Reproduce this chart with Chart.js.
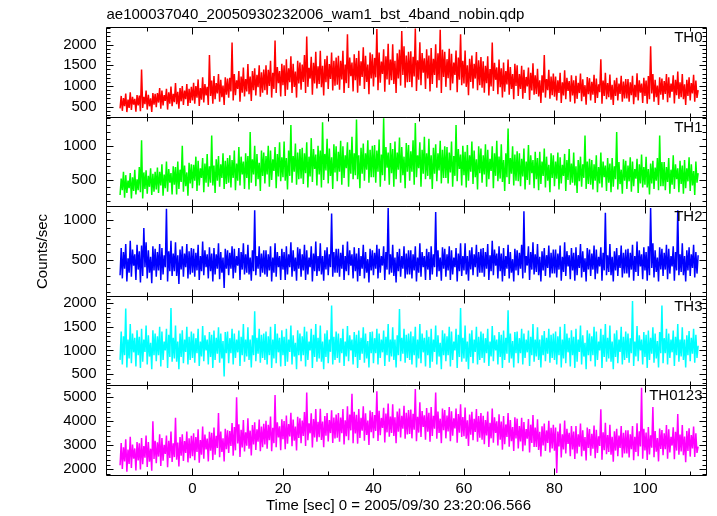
<!DOCTYPE html>
<html>
<head>
<meta charset="utf-8">
<script src="https://cdn.jsdelivr.net/npm/chart.js@4"></script>
<style>
  html, body { margin: 0; padding: 0; background: #fff; }
  #wrap { width: 717px; height: 516px; position: relative; }
</style>
</head>
<body>
<div id="wrap"><canvas id="lc" width="717" height="516"></canvas></div>
<script>
// light curve bins: 0.25 s each, starting at t = -16 s (16 bins per row = 4 s)
const T_START = -16;
const T_BIN = 0.25;

const th0 = [
  460, 760, 400, 710, 510, 820, 370, 670, 470, 850, 420, 740, 550, 690, 380, 780,
  530, 770, 390, 1400, 470, 740, 560, 890, 430, 790, 510, 700, 370, 830, 550, 810,
  490, 830, 600, 950, 450, 890, 530, 780, 640, 930, 430, 850, 570, 990, 510, 810,
  610, 1070, 560, 860, 450, 950, 630, 1000, 540, 890, 680, 1050, 520, 930, 590, 980,
  650, 1080, 570, 1000, 720, 1160, 520, 950, 670, 1210, 600, 1050, 770, 980, 540, 1750,
  760, 1130, 570, 1240, 680, 1070, 820, 1290, 620, 1150, 730, 1010, 540, 1210, 790, 1180,
  720, 1200, 870, 2050, 650, 1290, 780, 1140, 930, 1360, 620, 1230, 840, 1450, 750, 1170,
  870, 1530, 800, 1230, 640, 1360, 900, 1430, 770, 1270, 970, 1500, 740, 1330, 840, 1400,
  900, 1500, 790, 1390, 1000, 1610, 720, 1320, 930, 2100, 830, 1460, 1070, 1360, 750, 1540,
  1020, 1500, 760, 1650, 910, 1430, 1090, 1720, 830, 1540, 980, 1350, 720, 1610, 1060, 1570,
  910, 1520, 1100, 1750, 830, 2200, 980, 1440, 1180, 1710, 790, 1560, 1060, 1830, 940, 1480,
  1050, 1850, 970, 1490, 770, 1650, 1090, 1730, 930, 1530, 1170, 1810, 890, 1610, 1010, 1690,
  1030, 1730, 910, 1610, 1160, 1850, 830, 1520, 1070, 2250, 950, 1690, 1240, 1570, 870, 1770,
  1140, 1680, 840, 1850, 1010, 1600, 1220, 1940, 930, 1730, 1100, 1520, 800, 1810, 1180, 1770,
  990, 1680, 1210, 2380, 900, 1810, 1080, 1590, 1290, 1890, 860, 1720, 1160, 2020, 1030, 1640,
  1140, 2010, 1050, 1610, 830, 1790, 1180, 1880, 1010, 2330, 1270, 1960, 960, 1740, 1090, 1830,
  1100, 1840, 970, 1710, 1230, 2390, 880, 1620, 1150, 2060, 1020, 1800, 1320, 1670, 930, 1890,
  1180, 1740, 870, 1920, 1050, 1660, 1270, 2010, 960, 1790, 1140, 2360, 830, 1880, 1220, 1830,
  980, 1650, 1190, 1900, 900, 1780, 1060, 1570, 1270, 1860, 850, 1690, 1150, 2250, 1020, 1610,
  1060, 1860, 980, 1500, 780, 1660, 1100, 1740, 940, 1540, 1180, 1820, 900, 1620, 1020, 1700,
  960, 1600, 840, 1490, 1070, 1720, 770, 1410, 990, 2050, 880, 1560, 1150, 1450, 800, 1640,
  970, 1430, 720, 1570, 860, 1360, 1040, 1640, 790, 1460, 930, 1290, 680, 1540, 1000, 1500,
  760, 1290, 930, 1490, 690, 1390, 830, 1220, 990, 1450, 660, 1320, 890, 1550, 790, 1260,
  810, 1420, 750, 1140, 590, 1260, 840, 1750, 720, 1170, 900, 1390, 690, 1230, 780, 1300,
  740, 1230, 650, 1140, 830, 1320, 590, 1090, 770, 1380, 680, 1200, 880, 1120, 620, 1260,
  770, 1140, 580, 1250, 690, 1080, 830, 1300, 630, 1160, 740, 1020, 550, 1220, 800, 1190,
  650, 1100, 790, 1270, 590, 1180, 710, 1040, 850, 1650, 570, 1130, 760, 1320, 680, 1070,
  730, 1280, 670, 1030, 540, 1140, 760, 1200, 650, 1060, 810, 1250, 620, 1110, 700, 1170,
  700, 1170, 620, 1090, 780, 1250, 560, 1030, 730, 1310, 650, 1140, 840, 1060, 590, 1200,
  760, 1130, 570, 1240, 680, 1960, 820, 1290, 620, 1150, 730, 1010, 540, 1210, 790, 1180,
  670, 1120, 810, 1290, 610, 1210, 720, 1060, 860, 1260, 580, 1150, 780, 1350, 690, 1090,
  730, 1290, 680, 1040, 540, 1150, 760, 1210, 650, 1070, 820, 1270, 620, 1130, 710, 900
];
const th1 = [
  280, 520, 350, 620, 240, 570, 310, 490, 380, 600, 230, 540, 340, 650, 290, 510,
  350, 690, 320, 1080, 230, 610, 370, 640, 300, 560, 400, 670, 280, 590, 330, 620,
  360, 680, 310, 620, 420, 730, 270, 580, 380, 770, 330, 660, 460, 600, 290, 700,
  430, 690, 290, 770, 370, 650, 470, 1000, 330, 710, 410, 610, 270, 750, 450, 730,
  380, 720, 490, 840, 340, 780, 420, 670, 530, 820, 320, 740, 460, 880, 400, 700,
  460, 1150, 420, 710, 310, 800, 490, 850, 400, 730, 530, 890, 370, 780, 440, 820,
  460, 860, 390, 790, 530, 930, 350, 740, 490, 980, 420, 840, 580, 770, 370, 890,
  530, 850, 360, 1200, 460, 800, 580, 1000, 410, 880, 510, 750, 340, 930, 560, 900,
  450, 850, 580, 1000, 400, 930, 500, 800, 630, 980, 380, 880, 550, 1050, 480, 830,
  540, 1060, 490, 820, 360, 930, 560, 1300, 460, 850, 620, 1030, 430, 900, 510, 950,
  520, 970, 440, 890, 600, 1050, 390, 840, 550, 1110, 470, 950, 660, 870, 420, 1000,
  580, 930, 390, 1340, 500, 880, 640, 1100, 450, 960, 560, 830, 370, 1020, 610, 990,
  480, 910, 620, 1070, 430, 990, 530, 860, 670, 1050, 400, 940, 590, 1130, 510, 890,
  570, 1380, 510, 860, 380, 970, 590, 1030, 490, 890, 650, 1080, 460, 940, 540, 1000,
  540, 1010, 460, 930, 620, 1090, 400, 870, 570, 1400, 490, 980, 680, 900, 430, 1040,
  600, 950, 400, 1060, 510, 900, 650, 1120, 460, 980, 570, 840, 380, 1040, 620, 1010,
  490, 920, 620, 1080, 430, 1330, 540, 860, 670, 1050, 400, 940, 590, 1130, 510, 890,
  560, 1100, 510, 860, 370, 970, 590, 1020, 480, 890, 640, 1070, 450, 940, 530, 990,
  530, 980, 450, 900, 610, 1060, 400, 850, 560, 1300, 480, 950, 660, 870, 420, 1000,
  570, 910, 390, 1010, 490, 860, 620, 1060, 440, 930, 540, 800, 360, 990, 600, 960,
  460, 860, 580, 1020, 400, 940, 510, 810, 630, 990, 380, 890, 560, 1070, 480, 840,
  520, 1020, 470, 790, 340, 890, 540, 1250, 440, 820, 590, 990, 420, 870, 490, 920,
  480, 890, 410, 810, 550, 960, 360, 770, 500, 1010, 430, 860, 600, 790, 380, 910,
  510, 820, 350, 910, 440, 770, 560, 960, 390, 840, 490, 720, 320, 890, 530, 860,
  410, 770, 520, 900, 360, 830, 450, 720, 560, 880, 340, 790, 500, 950, 430, 740,
  460, 900, 420, 700, 310, 790, 480, 840, 400, 730, 530, 1150, 370, 770, 440, 810,
  430, 790, 360, 730, 490, 860, 320, 690, 450, 900, 390, 770, 540, 710, 340, 820,
  460, 740, 320, 820, 400, 700, 510, 1200, 360, 760, 440, 650, 300, 800, 490, 780,
  370, 710, 480, 830, 330, 770, 410, 660, 520, 810, 310, 730, 450, 870, 390, 690,
  430, 840, 390, 660, 290, 740, 450, 780, 370, 680, 490, 820, 350, 1150, 410, 760,
  410, 760, 350, 690, 470, 820, 300, 650, 430, 860, 370, 730, 510, 670, 320, 780,
  440, 710, 300, 790, 380, 670, 480, 830, 340, 730, 420, 630, 280, 770, 460, 600
];
const th2 = [
  310, 650, 270, 600, 390, 700, 230, 520, 340, 740, 290, 630, 430, 570, 250, 690,
  380, 610, 220, 680, 300, 900, 410, 720, 270, 620, 340, 540, 210, 670, 370, 640,
  290, 600, 370, 700, 250, 650, 320, 560, 410, 1140, 230, 610, 360, 740, 300, 580,
  360, 720, 300, 560, 200, 630, 380, 670, 290, 580, 410, 700, 270, 610, 320, 650,
  340, 640, 290, 590, 370, 690, 250, 550, 360, 730, 310, 620, 410, 570, 270, 660,
  360, 580, 230, 650, 320, 570, 390, 710, 260, 600, 340, 530, 150, 640, 390, 620,
  310, 590, 390, 670, 270, 640, 340, 550, 430, 650, 250, 600, 380, 710, 320, 570,
  340, 690, 320, 530, 240, 620, 360, 1120, 310, 550, 390, 670, 290, 580, 340, 620,
  320, 620, 290, 570, 370, 670, 230, 530, 340, 710, 290, 600, 410, 550, 250, 640,
  380, 600, 250, 670, 320, 570, 410, 720, 290, 620, 360, 530, 240, 660, 390, 640,
  290, 570, 370, 690, 250, 620, 320, 530, 410, 670, 230, 580, 360, 730, 300, 550,
  360, 710, 320, 550, 240, 620, 380, 660, 310, 570, 410, 1080, 290, 600, 340, 640,
  340, 640, 290, 590, 390, 690, 250, 550, 360, 730, 310, 620, 430, 570, 270, 660,
  360, 580, 230, 650, 300, 550, 390, 690, 270, 600, 340, 510, 220, 640, 370, 620,
  310, 590, 390, 690, 270, 640, 340, 550, 430, 670, 250, 600, 380, 1150, 320, 570,
  340, 690, 300, 530, 220, 600, 360, 640, 290, 550, 390, 670, 270, 580, 320, 620,
  320, 620, 270, 570, 370, 670, 230, 530, 340, 710, 290, 600, 410, 550, 250, 640,
  380, 600, 250, 670, 320, 570, 410, 1100, 290, 620, 360, 530, 240, 660, 390, 640,
  290, 570, 370, 670, 250, 620, 320, 530, 410, 650, 230, 580, 360, 710, 300, 550,
  370, 710, 320, 550, 240, 620, 380, 660, 310, 570, 410, 690, 290, 600, 340, 640,
  340, 650, 290, 600, 390, 700, 250, 560, 360, 740, 310, 630, 430, 580, 270, 670,
  360, 580, 230, 650, 300, 550, 390, 690, 270, 600, 340, 510, 230, 640, 370, 620,
  310, 590, 390, 690, 270, 1110, 340, 550, 430, 670, 250, 600, 380, 720, 320, 570,
  350, 700, 310, 540, 230, 610, 370, 650, 300, 560, 400, 680, 280, 590, 330, 630,
  330, 630, 280, 580, 380, 680, 240, 540, 350, 720, 300, 610, 420, 560, 260, 650,
  370, 590, 240, 660, 310, 560, 400, 700, 280, 610, 350, 520, 230, 650, 380, 630,
  300, 580, 380, 680, 260, 630, 330, 540, 420, 660, 240, 590, 370, 1090, 310, 560,
  350, 700, 310, 540, 230, 610, 370, 650, 300, 560, 400, 680, 280, 590, 330, 630,
  330, 640, 280, 590, 380, 690, 240, 550, 350, 730, 300, 620, 420, 570, 260, 660,
  370, 600, 240, 670, 310, 1150, 400, 710, 280, 620, 350, 530, 230, 660, 380, 640,
  300, 590, 380, 690, 260, 640, 330, 550, 420, 670, 240, 600, 370, 1120, 310, 570,
  350, 710, 310, 550, 230, 620, 370, 660, 300, 570, 400, 690, 280, 600, 330, 560
];
const th3 = [
  800, 1400, 700, 1300, 900, 1890, 640, 1230, 830, 1560, 730, 1360, 960, 1270, 660, 1430,
  900, 1290, 630, 1460, 760, 1230, 970, 1530, 700, 1320, 870, 1160, 600, 1430, 900, 1360,
  770, 1300, 900, 1500, 660, 1400, 800, 1190, 1000, 1460, 630, 1330, 860, 1900, 760, 1270,
  830, 1530, 760, 1190, 600, 1360, 860, 1430, 730, 1230, 970, 1500, 700, 1290, 800, 1400,
  840, 1360, 740, 1260, 940, 1460, 670, 1190, 870, 1520, 770, 1320, 1000, 1230, 700, 1390,
  860, 1330, 630, 1420, 800, 1270, 930, 1490, 740, 1360, 830, 1200, 450, 1390, 940, 1400,
  730, 1260, 940, 1460, 700, 1360, 840, 1230, 960, 1420, 670, 1290, 900, 1560, 760, 1230,
  870, 1490, 800, 1230, 640, 1320, 900, 1830, 770, 1270, 930, 1460, 740, 1330, 840, 1360,
  800, 1400, 700, 1300, 900, 1500, 630, 1230, 830, 1560, 730, 1360, 960, 1270, 660, 1430,
  900, 1290, 670, 1460, 760, 1230, 970, 1530, 700, 1320, 870, 1160, 600, 1430, 900, 1360,
  770, 1300, 900, 1500, 660, 1400, 800, 1190, 1000, 1460, 630, 1330, 860, 1560, 760, 1270,
  830, 1530, 760, 1190, 600, 1360, 860, 1430, 730, 1230, 970, 1950, 700, 1290, 800, 1400,
  840, 1360, 740, 1260, 940, 1460, 670, 1190, 870, 1520, 770, 1320, 1000, 1230, 700, 1390,
  860, 1330, 630, 1420, 800, 1270, 930, 1490, 740, 1360, 830, 1200, 640, 1390, 940, 1400,
  730, 1260, 940, 1460, 700, 1360, 840, 1230, 960, 1420, 670, 1290, 900, 1560, 760, 1230,
  870, 1490, 800, 1230, 640, 1320, 900, 1880, 770, 1270, 930, 1460, 740, 1330, 840, 1360,
  800, 1400, 700, 1300, 900, 1500, 640, 1230, 830, 1560, 730, 1360, 960, 1270, 660, 1430,
  900, 1290, 630, 1460, 760, 1230, 970, 1530, 700, 1320, 870, 1160, 600, 1430, 900, 1360,
  770, 1300, 900, 1500, 660, 1400, 800, 1190, 1000, 1460, 630, 1330, 860, 1900, 760, 1270,
  830, 1530, 760, 1190, 600, 1360, 860, 1430, 730, 1230, 970, 1500, 700, 1290, 800, 1400,
  840, 1360, 740, 1260, 940, 1460, 670, 1190, 870, 1520, 770, 1320, 1000, 1230, 700, 1390,
  860, 1330, 630, 1420, 800, 1270, 930, 1850, 740, 1360, 830, 1200, 640, 1390, 940, 1400,
  730, 1260, 940, 1460, 700, 1360, 840, 1230, 960, 1420, 670, 1290, 900, 1560, 760, 1230,
  870, 1490, 800, 1230, 640, 1320, 900, 1410, 770, 1270, 930, 1460, 740, 1330, 840, 1360,
  800, 1400, 700, 1300, 900, 1500, 640, 1230, 830, 1560, 730, 1360, 960, 1270, 660, 1430,
  900, 1290, 630, 1460, 760, 1230, 970, 1530, 700, 1320, 870, 1160, 600, 1430, 900, 1360,
  770, 1300, 900, 1500, 660, 1400, 800, 1190, 1000, 1460, 630, 1330, 860, 1560, 760, 1270,
  830, 1530, 760, 1190, 600, 1360, 860, 1430, 730, 1230, 970, 1500, 700, 1290, 800, 1400,
  840, 1360, 740, 1260, 940, 2050, 670, 1190, 870, 1520, 770, 1320, 1000, 1230, 700, 1390,
  860, 1330, 630, 1420, 800, 1270, 930, 1490, 740, 1360, 830, 1200, 640, 1390, 940, 1950,
  730, 1260, 940, 1460, 700, 1360, 840, 1230, 960, 1420, 670, 1290, 900, 1560, 760, 1230,
  870, 1490, 800, 1230, 640, 1320, 900, 1410, 770, 1270, 930, 1460, 740, 1330, 840, 1100
];
const th0123 = [
  2170, 3090, 2010, 2920, 2330, 3250, 1900, 2820, 2220, 3360, 2060, 3030, 2440, 2870, 1950, 3140,
  2370, 3080, 1990, 3300, 2210, 2970, 2480, 3410, 2100, 3140, 2320, 2860, 1940, 4000, 2430, 3190,
  2250, 3130, 2530, 3460, 2140, 3300, 2360, 3020, 2640, 3410, 2090, 3190, 2470, 3570, 2310, 3080,
  2510, 4150, 2400, 3120, 2120, 3340, 2570, 3460, 2350, 3180, 2680, 3570, 2290, 3290, 2460, 3400,
  2550, 3500, 2380, 3340, 2720, 3670, 2270, 3220, 2610, 3780, 2440, 3450, 2830, 3280, 2330, 3560,
  2780, 3520, 2390, 3740, 2610, 3400, 2890, 4350, 2500, 3570, 2720, 3290, 2330, 3690, 2840, 3630,
  2680, 3590, 2970, 3930, 2570, 3760, 2790, 5000, 3080, 3880, 2510, 3650, 2910, 4050, 2740, 3540,
  2980, 4130, 2860, 3610, 2580, 3840, 3040, 3960, 2810, 3670, 3150, 4070, 2750, 3780, 2920, 3900,
  3040, 4020, 2860, 3850, 3210, 4200, 2750, 3730, 3090, 5100, 2920, 3960, 3330, 3790, 2800, 4080,
  3250, 4010, 2840, 4240, 3070, 3890, 3370, 4360, 2960, 4070, 3190, 3780, 2780, 4190, 3310, 4130,
  3090, 4030, 3390, 4390, 2970, 5200, 3210, 3920, 3500, 4330, 2910, 4090, 3330, 4510, 3150, 3980,
  3340, 4520, 3220, 3990, 2920, 4220, 3400, 4340, 3160, 4050, 3510, 4460, 3100, 4160, 3280, 4280,
  3320, 4340, 3150, 4160, 3500, 4510, 3030, 4040, 3380, 4630, 3210, 4280, 3620, 5150, 3090, 4400,
  3490, 4270, 3070, 4510, 3310, 4150, 3610, 4630, 3190, 4330, 3430, 4030, 3010, 4450, 3550, 4390,
  3300, 4260, 3600, 5250, 3180, 4440, 3420, 4140, 3720, 4560, 3120, 4320, 3540, 4740, 3360, 4200,
  3510, 4710, 3390, 4170, 3090, 4410, 3570, 4530, 3330, 4230, 3690, 4650, 3270, 4350, 3450, 4470,
  3470, 4490, 3290, 4310, 3650, 5350, 3170, 4190, 3530, 4790, 3350, 4430, 3770, 4250, 3230, 4550,
  3570, 4350, 3150, 4590, 3390, 4230, 3690, 5200, 3270, 4410, 3510, 4110, 3090, 4530, 3630, 4470,
  3290, 4240, 3580, 4590, 3170, 4420, 3400, 4120, 3700, 4530, 3110, 4300, 3520, 4710, 3350, 4180,
  3380, 4570, 3270, 4040, 2970, 4280, 3440, 4400, 3210, 4100, 3560, 4510, 3150, 4220, 3320, 4340,
  3230, 4230, 3050, 4050, 3410, 4410, 2930, 3940, 3290, 4530, 3110, 4170, 3520, 4000, 2990, 4290,
  3230, 3990, 2820, 4220, 3050, 3870, 3350, 4340, 2940, 4050, 3170, 3760, 2760, 4170, 3290, 4110,
  2870, 3800, 3160, 4150, 2750, 3970, 2990, 3680, 3280, 4090, 2700, 3860, 3100, 4260, 2930, 3740,
  2930, 4080, 2810, 3560, 2530, 3790, 2990, 3910, 2760, 3620, 3100, 4020, 2700, 3730, 2870, 3850,
  2770, 3740, 1850, 3570, 2950, 3910, 2490, 3460, 2830, 4030, 2660, 3690, 3060, 3520, 2550, 3800,
  2830, 3570, 2430, 3800, 2660, 3460, 2940, 3910, 2540, 3630, 2770, 3340, 2370, 3740, 2890, 3680,
  2570, 3480, 2860, 3820, 2460, 3650, 2680, 3370, 2970, 4500, 2400, 3540, 2800, 3940, 2630, 3430,
  2720, 3860, 2610, 3350, 2320, 3580, 2780, 3690, 2550, 3410, 2890, 3800, 2490, 3520, 2660, 3630,
  2660, 3630, 2490, 3460, 2840, 3800, 2380, 3350, 2720, 3920, 2550, 3580, 2950, 5400, 2440, 3690,
  2790, 3530, 2390, 3760, 2620, 3420, 2900, 4600, 2500, 3590, 2730, 3300, 2330, 3700, 2850, 3640,
  2590, 3500, 2840, 3840, 2440, 3670, 2700, 3350, 2990, 3750, 2420, 3560, 2780, 4300, 2610, 3450,
  2740, 3840, 2590, 3370, 2300, 3600, 2760, 3710, 2530, 3430, 2870, 3780, 2510, 3500, 2680, 2950
];

const bands = ["TH0", "TH1", "TH2", "TH3", "TH0123"];
const series = [th0, th1, th2, th3, th0123];
const colors = ["#ff0000", "#00ff00", "#0000ff", "#00ffff", "#ff00ff"];
const yMin = [248, 110, 46, 248, 1742];
const yMax = [2416, 1417, 1166, 2148, 5475];
const yTicks = [
  [500, 1000, 1500, 2000],
  [500, 1000],
  [500, 1000],
  [500, 1000, 1500, 2000],
  [2000, 3000, 4000, 5000],
];
const yMinor = [100, 100, 100, 100, 200];
const xTicks = [0, 20, 40, 60, 80, 100];

const FONT = "'Liberation Sans', Arial, sans-serif";

const scales = {
  x: {
    type: "linear",
    position: "bottom",
    min: -19,
    max: 113.6,
    grid: { display: false, drawTicks: false },
    border: { display: false },
    afterBuildTicks: (s) => { s.ticks = xTicks.map((v) => ({ value: v })); },
    afterFit: (s) => { s.height = 40.5; },
    ticks: { color: "#000", padding: 4, autoSkip: false, font: { family: FONT, size: 15 }, maxRotation: 0, callback: (v) => String(v) },
  },
};
bands.forEach((b, k) => {
  scales["y" + k] = {
    type: "linear",
    position: "left",
    stack: "lc",
    stackWeight: 1,
    weight: 5 - k, // higher weight sits higher in the stack
    min: yMin[k],
    max: yMax[k],
    grid: { display: false, drawTicks: false },
    border: { display: false },
    afterBuildTicks: (s) => { s.ticks = yTicks[k].map((v) => ({ value: v })); },
    afterFit: (s) => { s.width = 106.5; },
    ticks: { color: "#000", padding: 10, autoSkip: false, font: { family: FONT, size: 15 }, callback: (v) => String(v) },
  };
});

const datasets = series.map((vals, k) => ({
  label: bands[k],
  data: vals.map((v, i) => ({ x: T_START + i * T_BIN, y: v })),
  yAxisID: "y" + k,
  borderColor: colors[k],
  borderWidth: 1.5,
  borderJoinStyle: "bevel",
  pointRadius: 0,
  tension: 0,
}));

// frames, inward ticks and the texts, drawn the qdp way
const qdpFrame = {
  id: "qdpFrame",
  afterDatasetsDraw(chart) {
    const { ctx, chartArea: a } = chart;
    const xs = chart.scales.x;
    const seg = (x1, y1, x2, y2) => { ctx.moveTo(x1, y1); ctx.lineTo(x2, y2); };
    ctx.save();
    ctx.strokeStyle = "#000";
    ctx.lineWidth = 1;
    ctx.beginPath();
    bands.forEach((b, k) => {
      const s = chart.scales["y" + k];
      const top = Math.round(s.top - 0.5) + 0.5;
      const bot = Math.round(s.bottom - 0.5) + 0.5;
      seg(a.left, top, a.right, top);
      seg(a.left, bot, a.right, bot);
      seg(a.left, top, a.left, bot);
      seg(a.right, top, a.right, bot);
      const step = yMinor[k];
      for (let v = Math.ceil(s.min / step) * step; v <= s.max; v += step) {
        const y = Math.round(s.getPixelForValue(v)) + 0.5;
        const len = yTicks[k].includes(v) ? 7 : 4;
        seg(a.left, y, a.left + len, y);
        seg(a.right, y, a.right - len, y);
      }
      for (let t = -10; t <= 110; t += 10) {
        const x = Math.round(xs.getPixelForValue(t)) + 0.5;
        const len = t % 20 === 0 ? 7 : 4;
        seg(x, top, x, top + len);
        seg(x, bot, x, bot - len);
      }
    });
    ctx.stroke();

    ctx.fillStyle = "#000";
    ctx.font = "15px " + FONT;
    ctx.textAlign = "right";
    ctx.textBaseline = "alphabetic";
    bands.forEach((b, k) => {
      const s = chart.scales["y" + k];
      ctx.fillText(b, a.right - 4, s.top + 14.5);
    });
    ctx.textAlign = "left";
    ctx.fillText("ae100037040_20050930232006_wam1_bst_4band_nobin.qdp", a.left, 19);
    ctx.textAlign = "center";
    ctx.fillText("Time [sec] 0 = 2005/09/30 23:20:06.566", 398.5, 510);
    ctx.translate(47, (a.top + a.bottom) / 2);
    ctx.rotate(-Math.PI / 2);
    ctx.fillText("Counts/sec", 0, 0);
    ctx.restore();
  },
};

new Chart(document.getElementById("lc"), {
  type: "line",
  data: { datasets },
  options: {
    responsive: false,
    animation: false,
    normalized: true,
    layout: { padding: { left: 0, right: 10.5, top: 27.5, bottom: 0 } },
    plugins: { legend: { display: false }, tooltip: { enabled: false } },
    scales,
  },
  plugins: [qdpFrame],
});
</script>
</body>
</html>
